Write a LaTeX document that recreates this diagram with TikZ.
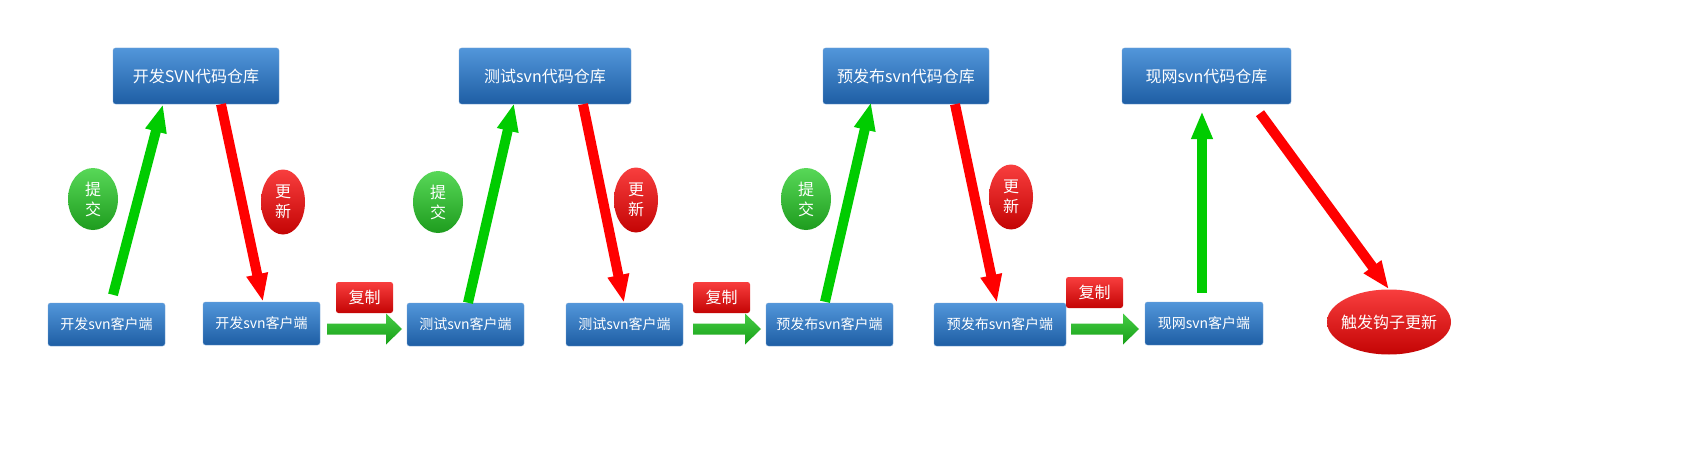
\documentclass[tikz,border=0pt]{standalone}
\usepackage{fontspec}
\setmainfont{Noto Sans CJK SC}
\usetikzlibrary{arrows.meta,shapes.geometric}
\definecolor{bluetop}{RGB}{82,150,218}
\definecolor{bluebot}{RGB}{30,94,164}
\definecolor{redtop}{RGB}{248,62,62}
\definecolor{redbot}{RGB}{196,4,4}
\definecolor{greentop}{RGB}{88,216,88}
\definecolor{greenbot}{RGB}{30,156,30}
\definecolor{cpgtop}{RGB}{70,204,70}
\definecolor{cpgbot}{RGB}{22,160,22}
\definecolor{arrgreen}{RGB}{0,204,0}
\definecolor{arrred}{RGB}{255,0,0}
\definecolor{boxedge}{RGB}{120,165,215}
\newcommand\cparrow[2]{%
  \shade[top color=cpgtop, bottom color=cpgbot] (#1) ++(0,-5.5) -- ++({#2-16},0) -- ++(0,-10) -- ++(16,15.5) -- ++(-16,15.5) -- ++(0,-10) -- ++({-(#2-16)},0) -- cycle;}
\begin{document}
\begin{tikzpicture}[x=1pt,y=-1pt,
  repobox/.style={rectangle, rounded corners=2.5pt, top color=bluetop, bottom color=bluebot, draw=boxedge, line width=0.4pt, text=white, minimum height=56pt, inner sep=0pt, font=\fontsize{16}{20}\selectfont},
  clientbox/.style={rectangle, rounded corners=2.5pt, top color=bluetop, bottom color=bluebot, draw=boxedge, line width=0.4pt, text=white, minimum height=43pt, inner sep=0pt, font=\fontsize{14}{18}\selectfont},
  copybox/.style={rectangle, rounded corners=2.5pt, top color=redtop, bottom color=redbot, text=white, minimum width=57pt, minimum height=31pt, inner sep=0pt, font=\fontsize{16}{20}\selectfont},
  gbubble/.style={ellipse, top color=greentop, bottom color=greenbot, text=white, minimum width=50pt, minimum height=62pt, inner sep=0pt, align=center, font=\fontsize{16}{20}\selectfont},
  rbubble/.style={ellipse, top color=redtop, bottom color=redbot, text=white, minimum width=44pt, minimum height=65pt, inner sep=0pt, align=center, font=\fontsize{16}{20}\selectfont},
  hookbubble/.style={ellipse, top color=redtop, bottom color=redbot, text=white, minimum width=124pt, minimum height=65pt, inner sep=0pt, font=\fontsize{16}{20}\selectfont},
  garrow/.style={draw=arrgreen, line width=10pt, -{Triangle[length=28pt,width=20pt]}},
  rarrow/.style={draw=arrred, line width=10pt, -{Triangle[length=28pt,width=20pt]}}
]
\useasboundingbox (0,0) rectangle (1701,452);
\fill[white] (0,0) rectangle (1701,452);

% repositories
\node[repobox, minimum width=166pt] (r1) at (196,76) {开发SVN代码仓库};
\node[repobox, minimum width=172pt] (r2) at (545,76) {测试svn代码仓库};
\node[repobox, minimum width=166pt] (r3) at (906,76) {预发布svn代码仓库};
\node[repobox, minimum width=169pt] (r4) at (1206.5,76) {现网svn代码仓库};

% clients
\node[clientbox, minimum width=117pt] (c1a) at (106.5,324.5) {开发svn客户端};
\node[clientbox, minimum width=117pt] (c1b) at (261.5,323.5) {开发svn客户端};
\node[clientbox, minimum width=117pt] (c2a) at (465.5,324.5) {测试svn客户端};
\node[clientbox, minimum width=117pt] (c2b) at (624.5,324.5) {测试svn客户端};
\node[clientbox, minimum width=127pt] (c3a) at (829.5,324.5) {预发布svn客户端};
\node[clientbox, minimum width=132pt] (c3b) at (1000,324.5) {预发布svn客户端};
\node[clientbox, minimum width=118pt] (c4) at (1204,323.5) {现网svn客户端};

% hook
\node[hookbubble] (hook) at (1389,322) {\makebox[0pt]{触发钩子更新}};

% labels
\node[gbubble] (t1) at (93,199) {提\\交};
\node[gbubble] (t2) at (438,202) {提\\交};
\node[gbubble] (t3) at (806,199) {提\\交};
\node[rbubble] (u1) at (283,202) {更\\新};
\node[rbubble] (u2) at (636,200) {更\\新};
\node[rbubble] (u3) at (1011,197) {更\\新};

\node[copybox] (k1) at (364.5,297.5) {复制};
\node[copybox] (k2) at (721.5,297.5) {复制};
\node[copybox] (k3) at (1094.5,292.5) {复制};

% copy arrows
\coordinate (h1) at (327,329);
\coordinate (h2) at (693,329);
\coordinate (h3) at (1071,329);
\cparrow{h1}{75}
\cparrow{h2}{68}
\cparrow{h3}{68}

% commit / update arrows
\draw[garrow] ([xshift=6.5pt,yshift=8pt]c1a.north) -- ([xshift=-33pt]r1.south);
\draw[rarrow] ([xshift=25pt]r1.south) -- ([xshift=1.5pt]c1b.north);
\draw[garrow] ([xshift=2.5pt]c2a.north) -- ([xshift=-31pt,yshift=1pt]r2.south);
\draw[rarrow] ([xshift=38pt]r2.south) -- ([xshift=-0.5pt]c2b.north);
\draw[garrow] ([xshift=-4.5pt,yshift=1pt]c3a.north) -- ([xshift=-35pt,yshift=2pt]r3.south);
\draw[rarrow] ([xshift=49pt]r3.south) -- ([xshift=-3pt]c3b.north);
\draw[garrow] ([xshift=-2pt,yshift=9pt]c4.north) -- ([xshift=-4.5pt,yshift=-7pt]r4.south);
\draw[rarrow] ([xshift=53.5pt,yshift=-9pt]r4.south) -- (hook.north);
\end{tikzpicture}
\end{document}
